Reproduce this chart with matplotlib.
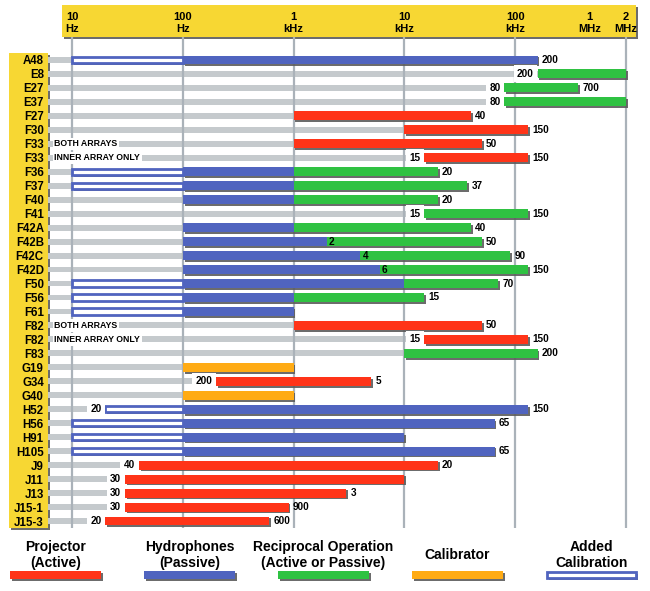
import numpy as np
import matplotlib
matplotlib.use("Agg")
import matplotlib.pyplot as plt
from matplotlib.patches import Rectangle
import matplotlib.patheffects as pe

plt.rcParams['font.family'] = ['Liberation Sans', 'DejaVu Sans']
plt.rcParams['font.weight'] = 'bold'

# ---------------- data ----------------
row_labels = ["A48", "E8", "E27", "E37", "F27", "F30", "F33", "F33", "F36", "F37",
              "F40", "F41", "F42A", "F42B", "F42C", "F42D", "F50", "F56", "F61", "F82",
              "F82", "F83", "G19", "G34", "G40", "H52", "H56", "H91", "H105", "J9",
              "J11", "J13", "J15-1", "J15-3"]
row_notes = {6: "BOTH ARRAYS", 7: "INNER ARRAY ONLY",
             19: "BOTH ARRAYS", 20: "INNER ARRAY ONLY"}

# (row index, low Hz, high Hz)
added_calibration = [(0, 10, 100), (8, 10, 100), (9, 10, 100), (16, 10, 100), (17, 10, 100),
                     (18, 10, 100), (25, 20, 100), (26, 10, 100), (27, 10, 100), (28, 10, 100)]
hydrophones = [(0, 100, 200e3), (8, 100, 1e3), (9, 100, 1e3), (10, 100, 1e3), (12, 100, 1e3),
               (13, 100, 2e3), (14, 100, 4e3), (15, 100, 6e3), (16, 100, 10e3), (17, 100, 1e3),
               (18, 100, 1e3), (25, 100, 150e3), (26, 100, 65e3), (27, 100, 10e3), (28, 100, 65e3)]
reciprocal = [(1, 200e3, 2e6), (2, 80e3, 700e3), (3, 80e3, 2e6), (8, 1e3, 20e3), (9, 1e3, 37e3),
              (10, 1e3, 20e3), (11, 15e3, 150e3), (12, 1e3, 40e3), (13, 2e3, 50e3),
              (14, 4e3, 90e3), (15, 6e3, 150e3), (16, 10e3, 70e3), (17, 1e3, 15e3),
              (21, 10e3, 200e3)]
projector = [(4, 1e3, 40e3), (5, 10e3, 150e3), (6, 1e3, 50e3), (7, 15e3, 150e3),
             (19, 1e3, 50e3), (20, 15e3, 150e3), (23, 200, 5e3), (29, 40, 20e3),
             (30, 30, 10e3), (31, 30, 3e3), (32, 30, 900), (33, 20, 600)]
calibrator = [(22, 100, 1e3), (24, 100, 1e3)]

left_values = {1: "200", 2: "80", 3: "80", 7: "15", 11: "15", 20: "15", 23: "200",
               25: "20", 29: "40", 30: "30", 31: "30", 32: "30", 33: "20"}
right_values = {0: "200", 2: "700", 4: "40", 5: "150", 6: "50", 7: "150", 8: "20", 9: "37",
                10: "20", 11: "150", 12: "40", 13: "50", 14: "90", 15: "150", 16: "70",
                17: "15", 19: "50", 20: "150", 21: "200", 23: "5", 25: "150", 26: "65",
                28: "65", 29: "20", 31: "3", 32: "900", 33: "600"}
mid_values = {13: "2", 14: "4", 15: "6"}

tick_freqs = [10, 100, 1e3, 1e4, 1e5, 1e6, 2e6]
tick_texts = ["10\nHz", "100\nHz", "1\nkHz", "10\nkHz", "100\nkHz", "1\nMHz", "2\nMHz"]
grid_freqs = [10, 100, 1e3, 1e4, 1e5, 2e6]

legend_titles = ["Projector\n(Active)", "Hydrophones\n(Passive)",
                 "Reciprocal Operation\n(Active or Passive)", "Calibrator", "Added\nCalibration"]

# ---------------- style ----------------
RED = "#ff3418"
BLUE = "#5064bf"
GREEN = "#2fc242"
ORANGE = "#ffab14"
YELLOW = "#f7d733"
GRAYBAR = "#c5cacd"
GRIDC = "#aab2b9"

# piecewise-log frequency scale (upper decade compressed like the original)
LOG_KNOTS = np.array([-1.0, 1.0, 5.0, 6.0, np.log10(2e6), np.log10(2e7)])
POS_KNOTS = np.array([-1.0, 1.0, 5.0, 5.67, 6.0, 7.096])


def fwd(f):
    f = np.clip(np.asarray(f, dtype=float), 1e-3, None)
    return np.interp(np.log10(f), LOG_KNOTS, POS_KNOTS)


def inv(u):
    return 10 ** np.interp(np.asarray(u, dtype=float), POS_KNOTS, LOG_KNOTS)


shadow = [pe.SimplePatchShadow(offset=(1.3, -1.3), shadow_rgbFace="#5c5c5c", alpha=0.9),
          pe.Normal()]

fig = plt.figure(figsize=(6.5, 5.91), dpi=100)

# background decorations in pixel coordinates
bg = fig.add_axes([0, 0, 1, 1], zorder=0)
bg.set_xlim(0, 650)
bg.set_ylim(591, 0)
bg.axis("off")
bg.add_patch(Rectangle((62, 5), 574, 32, fc=YELLOW, ec="none", path_effects=shadow))
bg.add_patch(Rectangle((9, 53), 39, 475, fc=YELLOW, ec="none", path_effects=shadow))

# main chart
ax = fig.add_axes([48 / 650, 1 - 528 / 591, 592 / 650, 491 / 591], zorder=1)
ax.set_xscale("function", functions=(fwd, inv))
xmin, xmax = float(inv(0.7834)), float(inv(6.126))
ax.set_xlim(xmin, xmax)
ax.set_ylim(33.5, -1.646)
ax.patch.set_visible(False)
for s in ax.spines.values():
    s.set_visible(False)

ax.xaxis.tick_top()
ax.set_xticks(tick_freqs)
ax.set_xticklabels(tick_texts, fontsize=8, fontweight="bold", linespacing=1.3)
ax.xaxis.set_minor_locator(matplotlib.ticker.NullLocator())
ax.tick_params(axis="x", length=0, pad=2)
ax.set_yticks(range(len(row_labels)))
ax.set_yticklabels(row_labels, fontsize=8.3, fontweight="bold")
ax.tick_params(axis="y", length=0, pad=3)

for f in grid_freqs:
    ax.axvline(f, color=GRIDC, lw=1.6, zorder=1.5)

all_segs = added_calibration + hydrophones + reciprocal + projector + calibrator
row_start = {}
row_end = {}
for r, lo, hi in all_segs:
    row_start[r] = min(lo, row_start.get(r, np.inf))
    row_end[r] = max(hi, row_end.get(r, 0))

BAR_H = 0.64
for r in range(len(row_labels)):
    ax.barh(r, row_start[r] - xmin, left=xmin, height=0.42, color=GRAYBAR, zorder=1)

for r, lo, hi in added_calibration:
    ax.barh(r, hi - lo, left=lo, height=BAR_H - 0.2, facecolor="white", edgecolor=BLUE,
            linewidth=2.0, zorder=2.8, path_effects=shadow)
for segs, col in [(hydrophones, BLUE), (projector, RED), (calibrator, ORANGE)]:
    for r, lo, hi in segs:
        ax.barh(r, hi - lo, left=lo, height=BAR_H, color=col, zorder=3, path_effects=shadow)
for r, lo, hi in reciprocal:
    ax.barh(r, hi - lo, left=lo, height=BAR_H, color=GREEN, zorder=3.2, path_effects=shadow)

VFS = 7.2
for r, t in right_values.items():
    ax.annotate(t, (row_end[r], r), xytext=(3, 0), textcoords="offset points",
                ha="left", va="center", fontsize=VFS, fontweight="bold", zorder=5)
for r, t in left_values.items():
    ax.annotate(t, (row_start[r], r), xytext=(-2.6, 0), textcoords="offset points",
                ha="right", va="center", fontsize=VFS, fontweight="bold", zorder=5,
                bbox=dict(boxstyle="square,pad=0.35", fc="white", ec="none"))
recip_start = {r: lo for r, lo, hi in reciprocal}
for r, t in mid_values.items():
    ax.annotate(t, (recip_start[r], r), xytext=(1.5, 0), textcoords="offset points",
                ha="left", va="center", fontsize=VFS, fontweight="bold", zorder=5)
for r, t in row_notes.items():
    ax.annotate(t, (xmin, r), xytext=(4.5, 0), textcoords="offset points",
                ha="left", va="center", fontsize=6.3, fontweight="bold", zorder=5,
                bbox=dict(boxstyle="square,pad=0.2", fc="white", ec="none"))

# legend
sw_left = [10, 144, 278, 412, 546]
sw_w = 91
sw_cols = [RED, BLUE, GREEN, ORANGE, None]
for x0, col, title in zip(sw_left, sw_cols, legend_titles):
    if col is None:
        bg.add_patch(Rectangle((x0 + 1, 572), sw_w - 2, 6, fc="white", ec=BLUE, lw=2.0,
                               path_effects=shadow))
    else:
        bg.add_patch(Rectangle((x0, 571), sw_w, 8, fc=col, ec="none", path_effects=shadow))
    bg.text(x0 + sw_w / 2, 555, title, ha="center", va="center", fontsize=10,
            fontweight="bold", linespacing=1.15)

fig.savefig("out.png", dpi=100)
